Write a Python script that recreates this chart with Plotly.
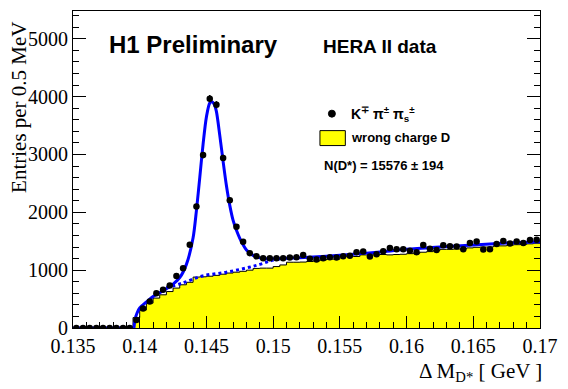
import plotly.graph_objects as go
import numpy as np

# ---- data ----
bin_width = 0.0005
bin_centers = [round(0.13525 + 0.0005 * i, 5) for i in range(70)]

data_counts = [
    0, 0, 0, 0, 0, 0, 0, 0, 0,
    140, 335, 460, 600, 660, 735, 900, 1035, 1440, 2100, 2990,
    3965, 3860, 2940, 2210, 1750, 1490, 1293, 1240, 1207, 1207,
    1207, 1207, 1218, 1224, 1264, 1195, 1184, 1207, 1224, 1218,
    1240, 1250, 1310, 1322, 1235, 1276, 1325, 1385, 1360, 1360,
    1335, 1310, 1436, 1370, 1350, 1432, 1415, 1410, 1362, 1470,
    1494, 1355, 1360, 1450, 1505, 1460, 1494, 1470, 1520, 1525,
]

wrong_charge = [
    0, 0, 0, 0, 0, 0, 0, 0, 0,
    180, 310, 430, 517, 574, 630, 690, 747, 790, 880, 885,
    895, 910, 930, 950, 965, 980, 1000, 1030, 1035, 1035,
    1062, 1090, 1137, 1137, 1140, 1149, 1160, 1175, 1190, 1190,
    1236, 1236, 1236, 1264, 1264, 1264, 1270, 1264, 1270, 1275,
    1285, 1293, 1310, 1320, 1340, 1360, 1360, 1365, 1370, 1385,
    1395, 1400, 1400, 1420, 1420, 1430, 1440, 1445, 1455, 1465,
]

fit_x = [0.13957, 0.13965, 0.1398, 0.1400, 0.1405, 0.1410, 0.1415, 0.1420,
         0.1425, 0.1430, 0.1435, 0.1440, 0.14425, 0.1445, 0.14475, 0.1450,
         0.14525, 0.1454, 0.1456, 0.14575, 0.1460, 0.14625, 0.1465, 0.14675,
         0.1470, 0.14725, 0.1475, 0.14775, 0.1480, 0.1485, 0.1490, 0.1495,
         0.1500, 0.1520, 0.1540, 0.1560, 0.1580, 0.1600, 0.1625, 0.1650,
         0.1675, 0.1700]
fit_y = [0, 150, 260, 345, 450, 545, 610, 680,
         760, 870, 1100, 1560, 2030, 2600, 3180, 3650,
         3890, 3910, 3860, 3740, 3330, 2880, 2460, 2120,
         1860, 1690, 1550, 1440, 1350, 1255, 1212, 1198,
         1195, 1215, 1240, 1275, 1315, 1360, 1400, 1436,
         1468, 1493]

bg_x = [0.1420, 0.1432, 0.1447, 0.1465, 0.1482, 0.1490, 0.1498, 0.1505]
bg_y = [700, 776, 900, 965, 1050, 1100, 1160, 1195]

x_ticks = [0.135, 0.14, 0.145, 0.15, 0.155, 0.16, 0.165, 0.17]
x_tick_labels = ["0.135", "0.14", "0.145", "0.15", "0.155", "0.16", "0.165", "0.17"]
y_ticks = [0, 1000, 2000, 3000, 4000, 5000]

# ---- figure ----
fig = go.Figure()

# wrong charge histogram as filled step
edges = [round(c - bin_width / 2, 5) for c in bin_centers] + [round(bin_centers[-1] + bin_width / 2, 5)]
wc_step = wrong_charge + [wrong_charge[-1]]
fig.add_trace(go.Scatter(
    x=edges, y=wc_step, mode="lines", line=dict(shape="hv", color="black", width=1),
    fill="tozeroy", fillcolor="#ffff00", hoverinfo="skip", showlegend=False))

# flat zero part of the fit below threshold
fig.add_trace(go.Scatter(
    x=[0.135, fit_x[0]], y=[0, 0], mode="lines",
    line=dict(color="#0000ff", width=3), showlegend=False))

# dotted background
fig.add_trace(go.Scatter(
    x=bg_x, y=bg_y, mode="lines", line=dict(color="#0000ff", width=3, dash="dot", shape="spline"),
    showlegend=False))

# total fit
fig.add_trace(go.Scatter(
    x=fit_x, y=fit_y, mode="lines", line=dict(color="#0000ff", width=3, shape="spline", smoothing=0.8),
    showlegend=False))

# data points
errs = [float(np.sqrt(v)) for v in data_counts]
fig.add_trace(go.Scatter(
    x=bin_centers, y=data_counts, mode="markers",
    marker=dict(color="black", size=6.5, symbol="circle"),
    error_y=dict(type="data", array=errs, color="black", thickness=1.5, width=0),
    showlegend=False))

serif = "Liberation Serif, Times New Roman, serif"
sans = "Liberation Sans, Arial, sans-serif"

fig.update_layout(
    width=568, height=389,
    margin=dict(l=73, r=26, t=10, b=61),
    paper_bgcolor="white", plot_bgcolor="white",
    showlegend=False,
    xaxis=dict(
        range=[0.135, 0.17], tickmode="array", tickvals=x_ticks, ticktext=x_tick_labels,
        ticks="inside", ticklen=12, tickwidth=1, tickcolor="black",
        minor=dict(ticks="inside", ticklen=6, dtick=0.001, tickcolor="black", showgrid=False),
        showline=True, linecolor="black", linewidth=1, mirror=True,
        showgrid=False, zeroline=False,
        tickfont=dict(family=serif, size=20, color="black"),
    ),
    yaxis=dict(
        range=[0, 5480], tickmode="array", tickvals=y_ticks,
        ticks="inside", ticklen=13, tickwidth=1, tickcolor="black",
        minor=dict(ticks="inside", ticklen=6, dtick=200, tickcolor="black", showgrid=False),
        showline=True, linecolor="black", linewidth=1, mirror="ticks",
        showgrid=False, zeroline=False,
        tickfont=dict(family=serif, size=20, color="black"),
    ),
)

def px_x(p):
    return (p - 73) / 469.0

def px_y(p):
    return (328 - p) / 318.0

ann = [
    dict(text="<b>H1 Preliminary</b>", x=px_x(107), y=px_y(44), xanchor="left", yanchor="middle",
         font=dict(family=sans, size=24, color="black")),
    dict(text="<b>HERA II data</b>", x=px_x(322), y=px_y(46), xanchor="left", yanchor="middle",
         font=dict(family=sans, size=19, color="black")),
    dict(text="<b>K<sup>∓</sup> π<sup>±</sup> π<sub>s</sub><sup>±</sup></b>", x=px_x(350), y=px_y(113),
         xanchor="left", yanchor="middle", font=dict(family=sans, size=14, color="black")),
    dict(text="<b>wrong charge D</b>", x=px_x(350), y=px_y(137), xanchor="left", yanchor="middle",
         font=dict(family=sans, size=13, color="black")),
    dict(text="<b>N(D*) = 15576 ± 194</b>", x=px_x(323), y=px_y(165), xanchor="left", yanchor="middle",
         font=dict(family=sans, size=13, color="black")),
    dict(text="Δ M<sub>D*</sub> [ GeV ]", x=px_x(546), y=px_y(372), xanchor="right", yanchor="middle",
         font=dict(family=serif, size=21, color="black")),
    dict(text="Entries per 0.5 MeV", x=px_x(18), y=px_y(107), xanchor="center", yanchor="middle",
         textangle=-90, font=dict(family=serif, size=21, color="black")),
]
for a in ann:
    a.update(xref="paper", yref="paper", showarrow=False)
fig.update_layout(annotations=ann)

shapes = [
    dict(type="circle", xref="paper", yref="paper",
         x0=px_x(329.5), x1=px_x(336.5), y0=px_y(116.5), y1=px_y(109.5),
         fillcolor="black", line=dict(color="black", width=1)),
    dict(type="rect", xref="paper", yref="paper",
         x0=px_x(321), x1=px_x(346.5), y0=px_y(145), y1=px_y(130),
         fillcolor="#ffff00", line=dict(color="black", width=1)),
]
fig.update_layout(shapes=shapes)

fig.write_html("out.html",
               config={"displayModeBar": False},
               post_script="document.body.style.margin='0';document.body.style.padding='0';")
